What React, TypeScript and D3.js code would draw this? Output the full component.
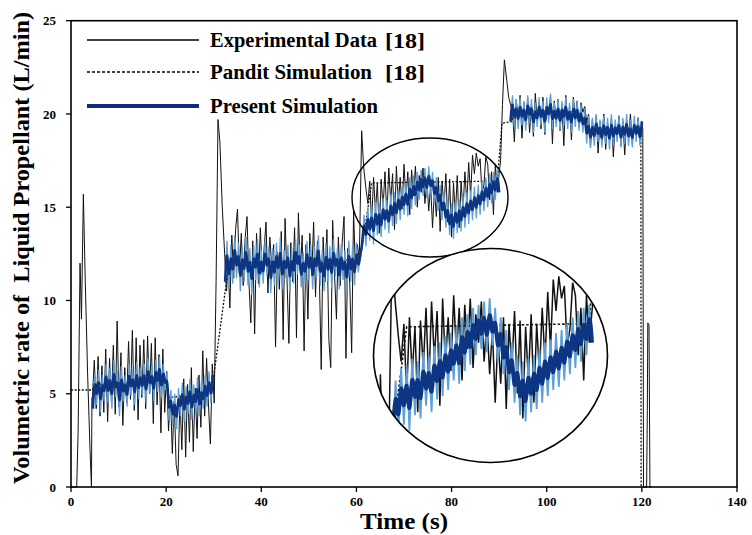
import React from 'react';
import * as d3 from 'd3';

const W = 752;
const H = 535;
const xTicks = [0, 20, 40, 60, 80, 100, 120, 140];
const yTicks = [0, 5, 10, 15, 20, 25];
const STEP = 0.4; // sampling interval of the read-off noisy segments (s)

// ---------- Experimental data [18] ----------
const expStartup = [[0, 0], [1.2, 0], [1.5, 3], [1.9, 12], [2.2, 9], [2.6, 15.7], [3.0, 11], [3.5, 6], [4.0, 2], [4.3, 0], [4.4, 4.8]];
const expA_t0 = 4.5;
const expA = [4.8, 6.8, 4.2, 7.0, 3.8, 6.5, 4.0, 7.4, 3.5, 6.9, 4.6, 7.6, 3.9, 8.9, 4.3, 7.2, 3.3, 6.4, 4.5, 7.8, 4.7, 8.4, 4.1, 8.0, 3.6, 7.6, 4.8, 7.9, 4.2, 8.1, 5.0, 7.7, 3.4, 8.0, 4.4, 7.1, 2.9, 7.4, 4.0, 6.2, 3.0, 5.0, 1.8, 4.6, 1.2, 0.6, 4.9, 2.0, 5.8, 1.6, 5.5, 2.4, 6.4, 1.9, 5.3, 2.6, 6.0, 3.2, 7.3, 3.8, 6.9, 4.4, 2.3, 6.6];
const expJump1 = [[30.1, 4.5], [30.5, 11], [30.9, 19.7], [31.3, 18.5], [31.8, 15.0], [32.3, 12.5], [32.7, 10.5]];
const expC_t0 = 33.0;
const expC = [12.0, 9.6, 13.5, 11.2, 13.8, 14.9, 11.5, 13.6, 10.8, 13.3, 14.5, 11.0, 8.8, 13.2, 8.2, 13.6, 10.9, 13.9, 11.4, 12.8, 14.2, 10.4, 13.4, 11.8, 13.0, 7.5, 12.6, 10.6, 13.7, 7.9, 14.4, 11.2, 7.7, 13.1, 11.0, 13.9, 8.0, 14.7, 11.6, 13.5, 7.3, 13.0, 9.0, 13.6, 11.3, 14.2, 10.2, 13.2, 11.5, 6.3, 13.4, 11.0, 13.8, 7.9, 6.4, 14.3, 11.4, 9.0, 13.4, 10.8, 13.1, 14.5, 6.9, 12.8, 10.9, 7.2, 14.8, 11.6, 13.0];
const expJump2 = [[60.6, 12.2], [61.1, 19.1], [61.5, 17.2], [62.0, 16.0]];
const expE_t0 = 62.4;
const expE = [15.2, 16.4, 14.1, 16.6, 14.8, 16.3, 13.6, 16.5, 15.0, 16.9, 14.4, 17.1, 15.3, 16.8, 13.8, 17.2, 15.1, 16.6, 14.9, 17.3, 15.4, 16.9, 14.6, 17.0, 15.6, 17.2, 15.0, 16.7, 15.8, 17.1, 15.2, 16.5, 14.8, 16.2, 13.9, 16.0, 14.5, 16.6, 13.7, 16.4, 15.0, 16.8, 14.2, 16.5, 13.4, 16.3, 14.6, 16.7, 13.9, 16.4, 14.8, 16.9, 15.2, 17.4, 15.6, 17.8, 16.8, 17.9, 17.2, 17.6, 15.7, 16.2, 17.7, 17.3, 15.4, 16.9, 14.6, 17.3, 15.8, 16.8];
const expJump3 = [[90.3, 17.5], [90.7, 20.5], [91.1, 22.9], [91.6, 21.8], [92.0, 20.9], [92.4, 20.5]];
const expG_t0 = 92.8;
const expG = [20.2, 18.5, 20.8, 19.6, 21.0, 18.7, 20.6, 19.4, 20.9, 19.0, 20.4, 18.8, 21.1, 19.7, 20.6, 19.2, 20.9, 18.9, 20.5, 19.8, 21.0, 18.4, 20.7, 19.5, 20.8, 19.1, 20.5, 18.3, 21.0, 19.6, 20.4, 18.6, 20.9, 19.9, 20.7, 19.3, 20.6, 20.1, 20.4, 19.5, 20.0, 18.2, 19.7, 18.6, 19.9, 17.9, 19.6, 18.8, 20.0, 18.1, 19.5, 18.7, 19.8, 17.7, 19.4, 18.9, 19.9, 18.3, 19.6, 17.8, 19.7, 18.8, 20.0, 18.4, 19.5, 18.9, 19.8, 18.7, 19.4];
const expShutdown = [[120.2, 19.2], [120.35, 0], [121.0, 0], [121.15, 4.1], [121.25, 8.8], [121.5, 8.7], [121.7, 0], [122.0, 0]];

// ---------- Pandit simulation [18] ----------
const pandit = [[0, 5.2], [4.5, 5.2], [5, 5.5], [20, 5.7], [20.5, 4.8], [29.5, 5.0], [30.3, 6.5], [33.2, 12.0], [60.8, 12.2], [63.2, 16.3], [89.6, 16.4], [90.6, 19.5], [92.7, 19.6], [93.2, 20.2], [108, 20.1], [109, 19.1], [119.8, 19.1], [119.85, 0]];

// ---------- Present simulation ----------
const preA_t0 = 4.6;
const preA = [4.2, 6.1, 4.4, 6.3, 4.0, 6.0, 4.6, 6.6, 4.5, 6.4, 4.2, 6.8, 4.8, 6.2, 3.8, 6.5, 4.6, 6.0, 4.3, 6.6, 4.9, 6.3, 4.4, 6.7, 4.7, 6.4, 4.9, 6.6, 4.5, 6.9, 5.0, 6.5, 4.6, 6.8, 5.1, 7.0, 4.8, 6.6, 5.2, 6.2, 3.6, 5.2, 3.3, 5.0, 3.1, 5.3, 3.8, 5.6, 3.5, 5.4, 3.9, 5.8, 3.6, 5.5, 4.0, 5.9, 3.8, 5.6, 4.2, 6.0, 4.3, 6.2, 4.5, 6.0];
const preC_t0 = 32.4;
const preC = [11.0, 13.2, 10.6, 13.0, 10.9, 13.5, 11.2, 13.1, 10.5, 12.9, 11.0, 13.4, 10.8, 12.8, 10.3, 13.0, 11.1, 13.3, 10.7, 12.7, 10.9, 13.2, 11.3, 12.9, 10.4, 12.8, 10.8, 13.1, 11.0, 13.4, 10.6, 12.7, 11.2, 13.0, 10.5, 12.8, 10.9, 13.3, 11.4, 13.0, 10.7, 12.6, 10.9, 13.2, 11.1, 13.0, 10.6, 12.9, 11.2, 13.5, 10.8, 12.7, 10.5, 13.1, 11.0, 12.9, 10.7, 13.3, 11.3, 12.8, 10.6, 13.0, 11.1, 12.7, 10.4, 13.2, 11.0, 12.9, 10.8, 13.1, 11.5, 12.6];
const preE_t0 = 61.2;
const preE = [12.8, 14.6, 12.9, 15.0, 13.2, 15.1, 13.0, 15.3, 13.5, 15.2, 13.4, 15.5, 13.8, 15.4, 13.6, 15.7, 14.0, 15.8, 14.1, 16.0, 14.3, 16.1, 14.6, 16.3, 14.5, 16.6, 14.9, 16.7, 15.1, 16.9, 15.4, 17.0, 15.6, 17.1, 15.5, 17.2, 15.7, 16.9, 15.2, 16.6, 14.8, 16.2, 14.3, 15.8, 13.9, 15.4, 13.5, 15.2, 13.3, 15.3, 13.6, 15.4, 13.7, 15.6, 13.9, 15.8, 14.1, 15.9, 14.3, 16.1, 14.4, 16.2, 14.6, 16.4, 14.8, 16.6, 15.0, 16.8, 15.2, 16.9, 15.4, 17.0, 15.8];
const preG_t0 = 92.4;
const preG = [19.6, 21.0, 19.3, 20.8, 19.2, 20.9, 19.4, 20.7, 19.1, 21.0, 19.5, 20.8, 19.0, 20.6, 19.3, 20.9, 19.4, 20.7, 19.0, 20.9, 19.5, 21.1, 19.2, 20.6, 19.3, 20.8, 19.1, 20.7, 19.4, 20.9, 19.2, 20.6, 19.0, 20.8, 19.3, 20.7, 19.1, 20.5, 19.0, 20.3, 18.4, 19.9, 18.2, 19.8, 18.3, 20.0, 18.5, 19.7, 18.2, 19.9, 18.4, 19.8, 18.1, 20.0, 18.3, 19.7, 18.5, 19.9, 18.2, 19.8, 18.4, 20.0, 18.3, 19.7, 18.2, 19.9, 18.5, 19.8, 18.3, 19.6];

const legendLabels = ['Experimental Data', 'Pandit Simulation', 'Present Simulation'];
const legendRef = '[18]';
const xTitle = 'Time (s)';
const yTitle = 'Volumetric rate of  Liquid Propellant (L/min)';

const sampled = (t0: number, vals: number[]) => vals.map((v, i) => [t0 + i * STEP, v] as [number, number]);

const experimental: [number, number][] = [
  ...(expStartup as [number, number][]),
  ...sampled(expA_t0, expA),
  ...(expJump1 as [number, number][]),
  ...sampled(expC_t0, expC),
  ...(expJump2 as [number, number][]),
  ...sampled(expE_t0, expE),
  ...(expJump3 as [number, number][]),
  ...sampled(expG_t0, expG),
  ...(expShutdown as [number, number][]),
];
const presentSegs: [number, number][][] = [
  sampled(preA_t0, preA),
  [...sampled(preC_t0, preC), ...sampled(preE_t0, preE)],
  sampled(preG_t0, preG),
];

const FONT = '"Liberation Serif", "Times New Roman", "DejaVu Serif", serif';
const LIGHT = '#5e9fd8';
const DARK = '#0c3584';

export default function App() {
  const m = { l: 71, r: 737, t: 20.7, b: 487 };
  const x = d3.scaleLinear().domain([0, 140]).range([m.l, m.r]);
  const y = d3.scaleLinear().domain([0, 25]).range([m.b, m.t]);

  // inset (magnified view of 60-90 s)
  const xi = d3.scaleLinear().domain([60.5, 90]).range([388, 592]);
  const yi = d3.scaleLinear().domain([14.3, 16.2]).range([390, 330]);

  const mk = (xs: d3.ScaleLinear<number, number>, ys: d3.ScaleLinear<number, number>, curve = d3.curveLinear) =>
    d3.line<[number, number]>().x(d => xs(d[0])).y(d => ys(d[1])).curve(curve);

  const lin = mk(x, y);
  const bas = mk(x, y, d3.curveBasis);
  const linI = mk(xi, yi);
  const basI = mk(xi, yi, d3.curveBasis);

  const insetFilter = (s: [number, number][]) => s.filter(d => d[0] >= 58 && d[0] <= 93);

  const legendY = [40, 72, 106];
  const legendWidths = [167, 162, 168];

  return (
    <svg width={W} height={H} style={{ position: 'absolute', left: 0, top: 0, background: '#fff' }} fontFamily={FONT}>
      <defs>
        <clipPath id="insetClip">
          <ellipse cx={490.5} cy={355.5} rx={117} ry={107} />
        </clipPath>
      </defs>

      {/* main series */}
      <path d={lin(pandit as [number, number][]) || ''} fill="none" stroke="#111" strokeWidth={1.3} strokeDasharray="2,1.6" />
      <path d={lin(experimental) || ''} fill="none" stroke="#111" strokeWidth={1} />
      {presentSegs.map((s, i) => (
        <g key={i}>
          <path d={lin(s) || ''} fill="none" stroke={LIGHT} strokeWidth={1.3} />
          <path d={bas(s) || ''} fill="none" stroke={DARK} strokeWidth={2.6} />
        </g>
      ))}

      {/* frame */}
      <rect x={m.l} y={m.t} width={m.r - m.l} height={m.b - m.t} fill="none" stroke="#000" strokeWidth={1.6} />

      {/* x ticks */}
      {xTicks.map(t => (
        <g key={t}>
          <line x1={x(t)} x2={x(t)} y1={m.b} y2={m.b + 5} stroke="#000" strokeWidth={1.3} />
          <text x={x(t)} y={506} textAnchor="middle" fontSize={13} fontWeight="bold">{t}</text>
        </g>
      ))}
      {/* y ticks */}
      {yTicks.map(t => (
        <g key={t}>
          <line x1={m.l - 5} x2={m.l} y1={y(t)} y2={y(t)} stroke="#000" strokeWidth={1.3} />
          <text x={56} y={y(t)} dy="0.35em" textAnchor="end" fontSize={13} fontWeight="bold">{t}</text>
        </g>
      ))}

      {/* titles */}
      <text x={404} y={529} textAnchor="middle" fontSize={23} fontWeight="bold" textLength={88} lengthAdjust="spacingAndGlyphs">{xTitle}</text>
      <text transform="translate(29,248) rotate(-90)" textAnchor="middle" fontSize={22.5} fontWeight="bold" style={{ whiteSpace: 'pre' }} textLength={472} lengthAdjust="spacingAndGlyphs">{yTitle}</text>

      {/* legend */}
      <line x1={87} x2={199} y1={legendY[0]} y2={legendY[0]} stroke="#000" strokeWidth={1.3} />
      <line x1={87} x2={199} y1={legendY[1]} y2={legendY[1]} stroke="#000" strokeWidth={1.3} strokeDasharray="3,2" />
      <line x1={87} x2={199} y1={legendY[2]} y2={legendY[2]} stroke="#0f2a85" strokeWidth={4} />
      {legendLabels.map((l, i) => (
        <text key={l} x={210} y={legendY[i] + 7} fontSize={20} fontWeight="bold" textLength={legendWidths[i]} lengthAdjust="spacingAndGlyphs">{l}</text>
      ))}
      <text x={385} y={legendY[0] + 8} fontSize={22} fontWeight="bold" textLength={40} lengthAdjust="spacingAndGlyphs">{legendRef}</text>
      <text x={385} y={legendY[1] + 8} fontSize={22} fontWeight="bold" textLength={40} lengthAdjust="spacingAndGlyphs">{legendRef}</text>

      {/* highlight ellipse */}
      <ellipse cx={430} cy={197.5} rx={78} ry={59.5} fill="none" stroke="#000" strokeWidth={1.4} />

      {/* magnified inset */}
      <g clipPath="url(#insetClip)">
        <ellipse cx={490.5} cy={355.5} rx={117} ry={107} fill="#fff" />
        <path d={linI((pandit as [number, number][]).filter(d => d[0] >= 33 && d[0] <= 93)) || ''} fill="none" stroke="#111" strokeWidth={1.6} strokeDasharray="2.5,2" />
        <path d={linI(insetFilter(experimental)) || ''} fill="none" stroke="#111" strokeWidth={1.5} />
        <path d={linI(insetFilter(presentSegs[1])) || ''} fill="none" stroke={LIGHT} strokeWidth={1.8} />
        <path d={basI(insetFilter(presentSegs[1])) || ''} fill="none" stroke={DARK} strokeWidth={4} />
      </g>
      <ellipse cx={490.5} cy={355.5} rx={117} ry={107} fill="none" stroke="#000" strokeWidth={1.6} />
    </svg>
  );
}
